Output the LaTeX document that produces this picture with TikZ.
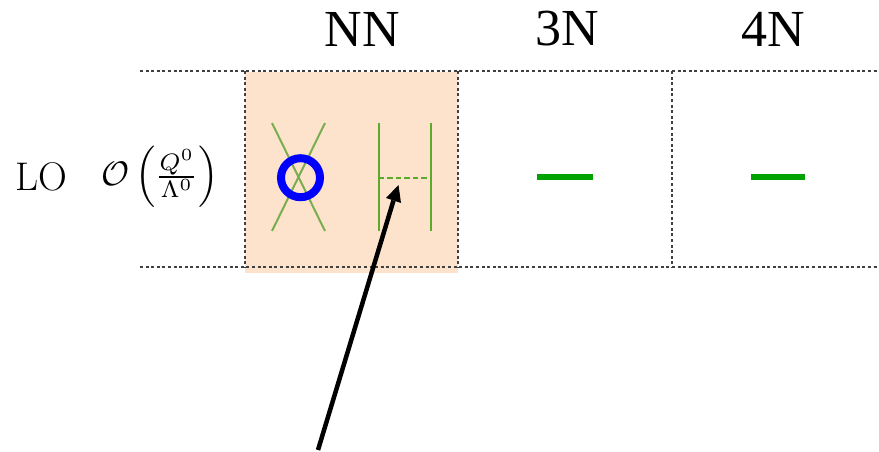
\documentclass[tikz,border=0pt]{standalone}
\usepackage{fontspec}
\setmainfont{Liberation Serif}
\definecolor{boxfill}{HTML}{FDE3CB}
\definecolor{linegreen}{HTML}{5BAA2A}
\definecolor{crossgreen}{HTML}{78AE50}
\definecolor{bargreen}{HTML}{00A300}
\tikzset{
  x=1pt,y=-1pt,
  grid/.style={line width=1.4pt,dash pattern=on 3pt off 2.6pt,black!75},
  head/.style={font=\fontsize{52}{56}\selectfont,inner sep=0pt},
  cross/.style={crossgreen,line width=2pt},
  rail/.style={linegreen,line width=2pt},
  bar/.style={bargreen,line width=6pt},
  lbl/.style={scale=3.4,inner sep=0pt}
}
\begin{document}
\begin{tikzpicture}
\useasboundingbox (0,0) rectangle (879,452);
\fill[boxfill] (245,72) rectangle (458,273);
\coordinate (tl) at (140,71); \coordinate (tr) at (879,71);
\coordinate (bl) at (140,267); \coordinate (br) at (879,267);
\draw[grid] (tl) -- (tr);
\draw[grid] (bl) -- (br);
\foreach \x in {245,458,672} \draw[grid] (\x,71) -- (\x,268);
\node[head] (nn) at (362.5,29) {NN};
\node[head] (three) at (567,29) {3N};
\node[head] (four) at (773.5,29) {4N};
\node[inner sep=0pt,font=\fontsize{40}{44}\selectfont] (lo) at (41,177) {\fontspec{Latin Modern Roman}LO};
\node[lbl] (math) at (160,177) {$\mathcal{O}\left(\frac{Q^0}{\Lambda^0}\right)$};
\coordinate (a1) at (272,123); \coordinate (a2) at (325,231);
\coordinate (b1) at (325,123); \coordinate (b2) at (272,231);
\draw[cross] (a1) -- (a2);
\draw[cross] (b1) -- (b2);
\node[circle,draw=blue,line width=8pt,minimum size=39pt,inner sep=0pt] (vertex) at (300.5,177.7) {};
\coordinate (l1) at (378.7,123); \coordinate (l2) at (378.7,231);
\coordinate (r1) at (431.3,123); \coordinate (r2) at (431.3,231);
\coordinate (lm) at (378.7,178); \coordinate (rm) at (429,178);
\draw[rail] (l1) -- (l2);
\draw[rail] (r1) -- (r2);
\draw[rail,line width=1.6pt,dash pattern=on 5.5pt off 3pt] (lm) -- (rm);
\coordinate (s3a) at (537,177); \coordinate (s3b) at (593,177);
\coordinate (s4a) at (751,177); \coordinate (s4b) at (805,177);
\draw[bar] (s3a) -- (s3b);
\draw[bar] (s4a) -- (s4b);
\coordinate (tail) at (318,450); \coordinate (tip) at (398.5,185);
\coordinate (hl) at (386,198); \coordinate (hr) at (401,203);
\coordinate (neck) at (393.5,200.5);
\fill[black] (tip) -- (hl) -- (hr) -- cycle;
\draw[black,line width=4.5pt] (tail) -- (neck);
\end{tikzpicture}
\end{document}
